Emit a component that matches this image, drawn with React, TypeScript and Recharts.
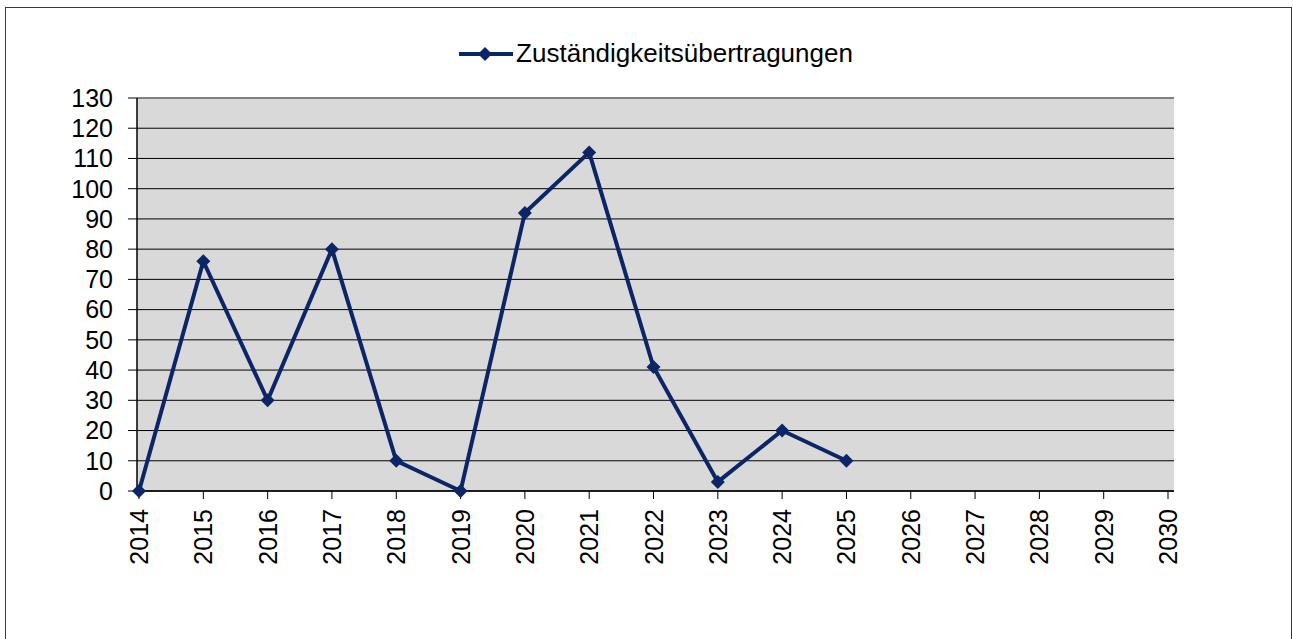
import React from "react";
import {
  CartesianGrid,
  Line,
  LineChart,
  ReferenceLine,
  XAxis,
  YAxis,
} from "recharts";

const NAVY = "#0c2566";
const PLOT_BG = "#d9d9d9";
const FONT = "'Liberation Sans', Arial, sans-serif";

const years = [
  "2014", "2015", "2016", "2017", "2018", "2019", "2020", "2021", "2022",
  "2023", "2024", "2025", "2026", "2027", "2028", "2029", "2030",
];
const transfers: (number | null)[] = [
  0, 76, 30, 80, 10, 0, 92, 112, 41, 3, 20, 10, null, null, null, null, null,
];
const yTicks = [0, 10, 20, 30, 40, 50, 60, 70, 80, 90, 100, 110, 120, 130];

const data = years.map((year, i) => ({ year, value: transfers[i] }));

function Diamond(props: any) {
  const { cx, cy, value } = props;
  if (value == null || cx == null || cy == null) return null;
  const r = 7;
  return (
    <path
      d={`M${cx},${cy - r} L${cx + r},${cy} L${cx},${cy + r} L${cx - r},${cy} Z`}
      fill={NAVY}
    />
  );
}

function YearTick(props: any) {
  const { x, y, payload } = props;
  return (
    <text
      x={x}
      y={y}
      transform={`rotate(-90, ${x}, ${y})`}
      textAnchor="end"
      dy="0.36em"
      fontSize={25}
      fontFamily={FONT}
      fill="#000"
    >
      {payload.value}
    </text>
  );
}

export default function App() {
  return (
    <div
      style={{
        position: "absolute",
        left: 0,
        top: 0,
        width: 1293,
        height: 639,
        background: "#fff",
        overflow: "hidden",
      }}
    >
      <div
        style={{
          position: "absolute",
          left: 5,
          top: 7,
          width: 1285,
          height: 660,
          border: "1px solid #3a3a3a",
        }}
      />
      {/* legend sits above the plot, like the spreadsheet original */}
      <div
        style={{
          position: "absolute",
          top: 38,
          left: 0,
          width: 1293,
          paddingLeft: 18,
          boxSizing: "border-box",
          display: "flex",
          alignItems: "center",
          justifyContent: "center",
          fontFamily: FONT,
          fontSize: 26,
          color: "#000",
        }}
      >
        <svg width={56} height={16} style={{ marginRight: 2 }}>
          <line x1={1} y1={8} x2={55} y2={8} stroke={NAVY} strokeWidth={4} />
          <path d="M27,1 L34,8 L27,15 L20,8 Z" fill={NAVY} />
        </svg>
        <span>Zuständigkeitsübertragungen</span>
      </div>
      <div style={{ position: "absolute", left: 0, top: 0 }}>
        <LineChart
          width={1293}
          height={639}
          data={data}
          margin={{ top: 98, right: 119, bottom: 68, left: 0 }}
        >
          <CartesianGrid
            vertical={false}
            fill={PLOT_BG}
            stroke="#000"
            strokeWidth={1}
          />
          <ReferenceLine y={130} stroke="#808080" strokeWidth={2} />
          <XAxis
            dataKey="year"
            interval={0}
            padding={{ left: 2, right: 6 }}
            height={80}
            tickSize={8}
            tickMargin={10}
            tick={<YearTick />}
            axisLine={{ stroke: "#000", strokeWidth: 1.5 }}
            tickLine={{ stroke: "#000" }}
          />
          <YAxis
            width={137}
            domain={[0, 130]}
            ticks={yTicks}
            interval={0}
            tickSize={9}
            tickMargin={15}
            axisLine={{ stroke: "#000", strokeWidth: 1.5 }}
            tickLine={{ stroke: "#000" }}
            tick={{ fontSize: 25, fontFamily: FONT, fill: "#000" }}
          />
          <YAxis
            yAxisId="frame"
            orientation="right"
            width={0}
            domain={[0, 130]}
            tick={false}
            tickLine={false}
            axisLine={{ stroke: "#808080", strokeWidth: 2 }}
          />
          <Line
            type="linear"
            dataKey="value"
            name="Zuständigkeitsübertragungen"
            stroke={NAVY}
            strokeWidth={4}
            dot={<Diamond />}
            activeDot={false}
            isAnimationActive={false}
          />
        </LineChart>
      </div>
    </div>
  );
}
